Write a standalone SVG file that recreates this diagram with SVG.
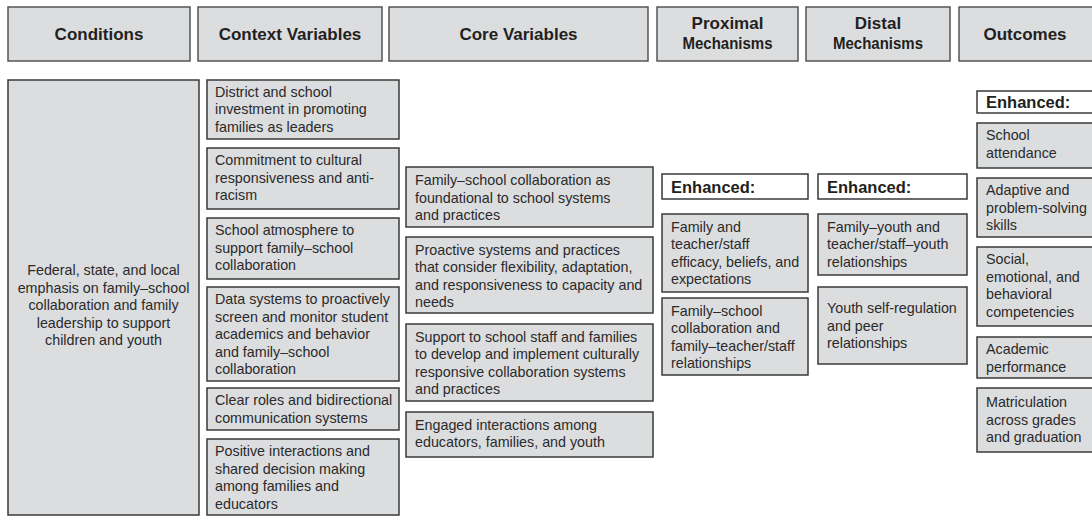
<svg xmlns="http://www.w3.org/2000/svg" width="1092" height="517" viewBox="0 0 1092 517">
<style>
  .hdr { fill: #dcdddf; stroke: #4a4a4a; stroke-width: 1.4; }
  .box { fill: #dcdddf; stroke: #3a3a3a; stroke-width: 1.5; }
  .enh { fill: #ffffff; stroke: #3a3a3a; stroke-width: 1.5; }
  .ht { font-family: "Liberation Sans", Arial, sans-serif; font-weight: bold; font-size: 17px; fill: #231f20; text-anchor: middle; }
  .t { font-family: "Liberation Sans", Arial, sans-serif; font-size: 14.3px; fill: #2a2a2a; }
  .tc { font-family: "Liberation Sans", Arial, sans-serif; font-size: 14.3px; fill: #2a2a2a; text-anchor: middle; }
  .et { font-family: "Liberation Sans", Arial, sans-serif; font-weight: bold; font-size: 16.5px; fill: #231f20; }
</style>
<rect width="1092" height="517" fill="#ffffff"/>

<g id="headers">
  <g id="h-conditions"><rect class="hdr" x="8" y="7" width="182" height="54"/><text class="ht" x="99" y="40">Conditions</text></g>
  <g id="h-context"><rect class="hdr" x="198" y="7" width="184" height="54"/><text class="ht" x="290" y="40">Context Variables</text></g>
  <g id="h-core"><rect class="hdr" x="389" y="7" width="259" height="54"/><text class="ht" x="518.5" y="40">Core Variables</text></g>
  <g id="h-proximal"><rect class="hdr" x="657" y="7" width="141" height="54"/><text class="ht" x="727.5" y="29">Proximal</text><text class="ht" x="727.5" y="49" textLength="90" lengthAdjust="spacingAndGlyphs">Mechanisms</text></g>
  <g id="h-distal"><rect class="hdr" x="806" y="7" width="144" height="54"/><text class="ht" x="878" y="29">Distal</text><text class="ht" x="878" y="49" textLength="90" lengthAdjust="spacingAndGlyphs">Mechanisms</text></g>
  <g id="h-outcomes"><rect class="hdr" x="959" y="7" width="141" height="54"/><text class="ht" x="1025" y="40">Outcomes</text></g>
</g>

<g id="conditions">
  <rect class="box" x="8" y="80" width="191" height="435"/>
  <text class="tc" x="103.5" y="275">Federal, state, and local</text>
  <text class="tc" x="103.5" y="292.5">emphasis on family–school</text>
  <text class="tc" x="103.5" y="310">collaboration and family</text>
  <text class="tc" x="103.5" y="327.5">leadership to support</text>
  <text class="tc" x="103.5" y="345">children and youth</text>
</g>

<g id="context">
  <g id="ctx1"><rect class="box" x="207" y="80" width="192" height="59"/>
    <text class="t" x="215" y="96.5">District and school</text><text class="t" x="215" y="114">investment in promoting</text><text class="t" x="215" y="131.5">families as leaders</text></g>
  <g id="ctx2"><rect class="box" x="207" y="148" width="192" height="61"/>
    <text class="t" x="215" y="165">Commitment to cultural</text><text class="t" x="215" y="182.5">responsiveness and anti-</text><text class="t" x="215" y="200">racism</text></g>
  <g id="ctx3"><rect class="box" x="207" y="218" width="192" height="61"/>
    <text class="t" x="215" y="235">School atmosphere to</text><text class="t" x="215" y="252.5">support family–school</text><text class="t" x="215" y="270">collaboration</text></g>
  <g id="ctx4"><rect class="box" x="207" y="287" width="192" height="94"/>
    <text class="t" x="215" y="304">Data systems to proactively</text><text class="t" x="215" y="321.5">screen and monitor student</text><text class="t" x="215" y="339">academics and behavior</text><text class="t" x="215" y="356.5">and family–school</text><text class="t" x="215" y="374">collaboration</text></g>
  <g id="ctx5"><rect class="box" x="207" y="388" width="192" height="42"/>
    <text class="t" x="215" y="405">Clear roles and bidirectional</text><text class="t" x="215" y="422.5">communication systems</text></g>
  <g id="ctx6"><rect class="box" x="207" y="439" width="192" height="76"/>
    <text class="t" x="215" y="456">Positive interactions and</text><text class="t" x="215" y="473.5">shared decision making</text><text class="t" x="215" y="491">among families and</text><text class="t" x="215" y="508.5">educators</text></g>
</g>

<g id="core">
  <g id="core1"><rect class="box" x="406" y="167" width="247" height="60"/>
    <text class="t" x="415" y="185">Family–school collaboration as</text><text class="t" x="415" y="202.5">foundational to school systems</text><text class="t" x="415" y="220">and practices</text></g>
  <g id="core2"><rect class="box" x="406" y="237" width="247" height="76"/>
    <text class="t" x="415" y="254.5">Proactive systems and practices</text><text class="t" x="415" y="272">that consider flexibility, adaptation,</text><text class="t" x="415" y="289.5">and responsiveness to capacity and</text><text class="t" x="415" y="307">needs</text></g>
  <g id="core3"><rect class="box" x="406" y="324" width="247" height="77"/>
    <text class="t" x="415" y="341.5">Support to school staff and families</text><text class="t" x="415" y="359">to develop and implement culturally</text><text class="t" x="415" y="376.5">responsive collaboration systems</text><text class="t" x="415" y="394">and practices</text></g>
  <g id="core4"><rect class="box" x="406" y="412" width="247" height="45"/>
    <text class="t" x="415" y="429.5">Engaged interactions among</text><text class="t" x="415" y="447">educators, families, and youth</text></g>
</g>

<g id="proximal">
  <g id="prox-enh"><rect class="enh" x="662" y="174" width="146" height="25"/><text class="et" x="671" y="192.5">Enhanced:</text></g>
  <g id="prox1"><rect class="box" x="662" y="214" width="146" height="78"/>
    <text class="t" x="671" y="231.5">Family and</text><text class="t" x="671" y="249">teacher/staff</text><text class="t" x="671" y="266.5">efficacy, beliefs, and</text><text class="t" x="671" y="284">expectations</text></g>
  <g id="prox2"><rect class="box" x="662" y="298" width="146" height="77"/>
    <text class="t" x="671" y="315.5">Family–school</text><text class="t" x="671" y="333">collaboration and</text><text class="t" x="671" y="350.5">family–teacher/staff</text><text class="t" x="671" y="368">relationships</text></g>
</g>

<g id="distal">
  <g id="dist-enh"><rect class="enh" x="818" y="174" width="149" height="25"/><text class="et" x="827" y="192.5">Enhanced:</text></g>
  <g id="dist1"><rect class="box" x="818" y="214" width="149" height="61"/>
    <text class="t" x="827" y="231.5">Family–youth and</text><text class="t" x="827" y="249">teacher/staff–youth</text><text class="t" x="827" y="266.5">relationships</text></g>
  <g id="dist2"><rect class="box" x="818" y="287" width="149" height="77"/>
    <text class="t" x="827" y="313">Youth self-regulation</text><text class="t" x="827" y="330.5">and peer</text><text class="t" x="827" y="348">relationships</text></g>
</g>

<g id="outcomes">
  <g id="out-enh"><rect class="enh" x="977" y="91" width="123" height="22"/><text class="et" x="986" y="107.5">Enhanced:</text></g>
  <g id="out1"><rect class="box" x="977" y="123" width="123" height="45"/>
    <text class="t" x="986" y="140">School</text><text class="t" x="986" y="157.5">attendance</text></g>
  <g id="out2"><rect class="box" x="977" y="178" width="123" height="59"/>
    <text class="t" x="986" y="195">Adaptive and</text><text class="t" x="986" y="212.5">problem-solving</text><text class="t" x="986" y="230">skills</text></g>
  <g id="out3"><rect class="box" x="977" y="247" width="123" height="79"/>
    <text class="t" x="986" y="264">Social,</text><text class="t" x="986" y="281.5">emotional, and</text><text class="t" x="986" y="299">behavioral</text><text class="t" x="986" y="316.5">competencies</text></g>
  <g id="out4"><rect class="box" x="977" y="337" width="123" height="41"/>
    <text class="t" x="986" y="354">Academic</text><text class="t" x="986" y="371.5">performance</text></g>
  <g id="out5"><rect class="box" x="977" y="388" width="123" height="64"/>
    <text class="t" x="986" y="407">Matriculation</text><text class="t" x="986" y="424.5">across grades</text><text class="t" x="986" y="442">and graduation</text></g>
</g>

<g id="connectors"></g>
</svg>
